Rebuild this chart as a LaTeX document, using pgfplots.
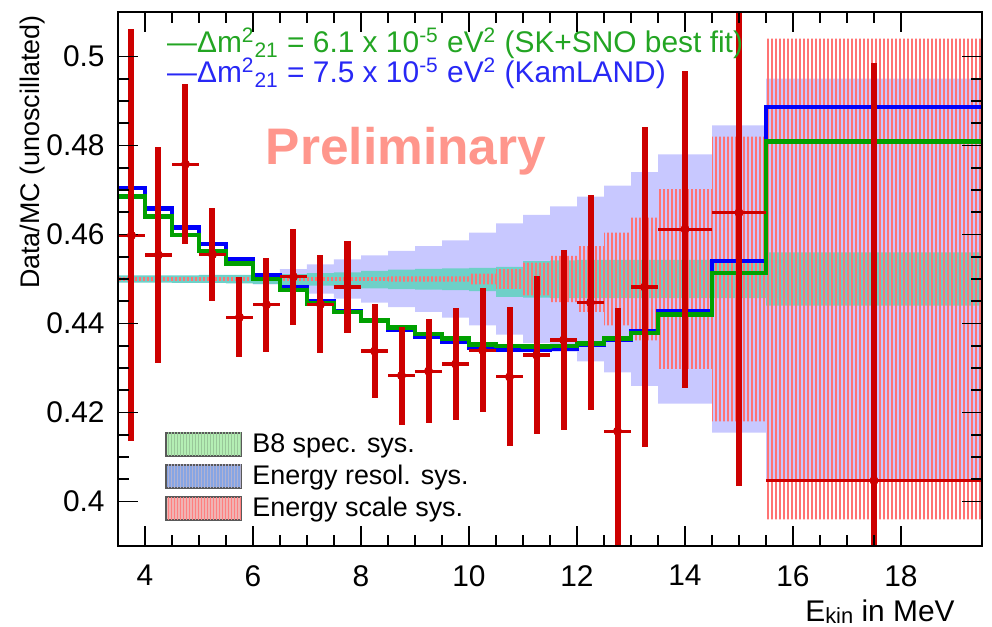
\documentclass[border=0pt]{standalone}
\usepackage{fontspec}
\setmainfont{Liberation Sans}
\usepackage{pgfplots}
\usepackage{pgfplotstable}
\pgfplotsset{compat=1.18}
\usetikzlibrary{patterns.meta}

\definecolor{datared}{RGB}{205,0,0}
\definecolor{fitgreen}{RGB}{0,160,0}
\definecolor{fitblue}{RGB}{0,0,250}
\definecolor{resolband}{RGB}{200,200,255}
\definecolor{bband}{RGB}{110,208,200}
\definecolor{scalehatch}{RGB}{255,115,115}
\definecolor{prelim}{RGB}{255,150,140}
\definecolor{txtgreen}{RGB}{35,165,35}
\definecolor{txtblue}{RGB}{40,40,245}
\definecolor{legB}{RGB}{180,238,180}
\definecolor{legR}{RGB}{135,165,228}
\definecolor{legS}{RGB}{240,180,180}

% measured spectrum: bin centre, value, half bin width, statistical error
\pgfplotstableread{
E      v       ex    ey
3.75   0.4598  0.25  0.0463
4.25   0.4554  0.25  0.0242
4.75   0.4758  0.25  0.0180
5.25   0.4555  0.25  0.0104
5.75   0.4414  0.25  0.0090
6.25   0.4442  0.25  0.0106
6.75   0.4505  0.25  0.0108
7.25   0.4443  0.25  0.0110
7.75   0.4482  0.25  0.0103
8.25   0.4338  0.25  0.0105
8.75   0.4283  0.25  0.0110
9.25   0.4293  0.25  0.0117
9.75   0.4309  0.25  0.0126
10.25  0.4340  0.25  0.0140
10.75  0.4280  0.25  0.0156
11.25  0.4329  0.25  0.0178
11.75  0.4363  0.25  0.0202
12.25  0.4447  0.25  0.0242
12.75  0.4158  0.25  0.0277
13.25  0.4482  0.25  0.0360
14.0   0.4612  0.5   0.0356
15.0   0.4649  0.5   0.0614
17.5   0.4047  2.0   0.0938
}\data

% oscillation expectations per bin (left edge; last row closes the final bin)
\pgfplotstableread{
E     kam     sksno
3.5   0.4704  0.4685
4.0   0.4658  0.4640
4.5   0.4616  0.4599
5.0   0.4578  0.4563
5.5   0.4544  0.4535
6.0   0.4508  0.4500
6.5   0.4482  0.4475
7.0   0.4450  0.4445
7.5   0.4428  0.4426
8.0   0.4406  0.4407
8.5   0.4385  0.4391
9.0   0.4370  0.4377
9.5   0.4358  0.4366
10.0  0.4345  0.4353
10.5  0.4342  0.4349
11.0  0.4341  0.4348
11.5  0.4343  0.4349
12.0  0.4351  0.4355
12.5  0.4364  0.4366
13.0  0.4383  0.4379
13.5  0.4428  0.4420
14.5  0.4541  0.4513
15.5  0.4886  0.4809
19.5  0.4886  0.4809
}\theory

% systematic bands as closed step outlines:
% upper edge left to right, then lower edge right to left
\pgfplotstableread{
E     y
3.5   0.4504
4.0   0.4504
4.5   0.4505
5.0   0.4506
5.5   0.4508
6.0   0.4512
6.5   0.4522
7.0   0.4533
7.5   0.4544
8.0   0.4553
8.5   0.4563
9.0   0.4574
9.5   0.4587
10.0  0.4604
10.5  0.4625
11.0  0.4644
11.5  0.4663
12.0  0.4685
12.5  0.4710
13.0  0.4740
13.5  0.4780
14.5  0.4845
15.5  0.4950
19.5  0.4950
19.5  0.4050
15.5  0.4155
14.5  0.4220
13.5  0.4260
13.0  0.4290
12.5  0.4315
12.0  0.4337
11.5  0.4356
11.0  0.4375
10.5  0.4396
10.0  0.4413
9.5   0.4426
9.0   0.4437
8.5   0.4447
8.0   0.4456
7.5   0.4467
7.0   0.4478
6.5   0.4488
6.0   0.4492
5.5   0.4494
5.0   0.4495
4.5   0.4496
4.0   0.4496
3.5   0.4496
}\resol

\pgfplotstableread{
E     y
3.5   0.4508
4.0   0.4508
4.5   0.4508
5.0   0.4509
5.5   0.4509
6.0   0.4510
6.5   0.4511
7.0   0.4513
7.5   0.4515
8.0   0.4518
8.5   0.4521
9.0   0.4523
9.5   0.4524
10.0  0.4525
10.5  0.4527
11.0  0.4540
11.5  0.4542
12.0  0.4543
12.5  0.4543
13.0  0.4543
13.5  0.4543
14.5  0.4543
15.5  0.4560
19.5  0.4560
19.5  0.4440
15.5  0.4457
14.5  0.4457
13.5  0.4457
13.0  0.4457
12.5  0.4457
12.0  0.4457
11.5  0.4458
11.0  0.4460
10.5  0.4473
10.0  0.4475
9.5   0.4476
9.0   0.4477
8.5   0.4479
8.0   0.4482
7.5   0.4485
7.0   0.4487
6.5   0.4489
6.0   0.4490
5.5   0.4491
5.0   0.4491
4.5   0.4492
4.0   0.4492
3.5   0.4492
}\beight

\pgfplotstableread{
E     y
3.5   0.4504
8.5   0.4506
10.0  0.4512
10.5  0.4522
11.0  0.4537
11.5  0.4552
12.0  0.4574
12.5  0.4604
13.0  0.4638
13.5  0.4702
14.5  0.4820
15.5  0.5040
19.5  0.5040
19.5  0.3960
15.5  0.4180
14.5  0.4298
13.5  0.4362
13.0  0.4396
12.5  0.4426
12.0  0.4448
11.5  0.4463
11.0  0.4478
10.5  0.4488
10.0  0.4494
8.5   0.4496
3.5   0.4496
}\escale

\begin{document}
\begin{tikzpicture}
\useasboundingbox (-59bp,-40.5bp) rectangle (437bp,273bp);
\begin{axis}[
  at={(0,0)}, anchor=south west,
  width=432bp, height=267bp, scale only axis,
  xmin=3.5, xmax=19.5, ymin=0.39, ymax=0.51,
  xtick={4,6,8,10,12,14,16,18},
  ytick={0.40,0.42,0.44,0.46,0.48,0.50},
  minor x tick num=3, minor y tick num=3,
  tick align=inside, tick pos=both,
  major tick length=10bp, minor tick length=5.5bp,
  every tick/.style={black, line width=0.9bp},
  axis line style={line width=1.3bp},
  axis on top,
  /pgf/number format/assume math mode=true,
  tick label style={font=\fontsize{15}{18}\selectfont, inner sep=0pt},
  xticklabel style={yshift=-9.5bp},
  yticklabel style={xshift=-6.5bp},
]
  % energy resolution systematic
  \addplot[const plot, fill=resolband, draw=none] table[x=E, y=y]{\resol} -- cycle;
  % B8 spectrum shape systematic
  \addplot[const plot, fill=bband, draw=none] table[x=E, y=y]{\beight} -- cycle;
  % energy scale systematic, hatched
  \addplot[const plot, draw=none, pattern={Lines[angle=90, distance=2bp, line width=0.6bp]},
           pattern color=scalehatch] table[x=E, y=y]{\escale} -- cycle;

  % expectations
  \addplot[const plot, fitblue, line width=2.2bp] table[x=E, y=kam]{\theory};
  \addplot[const plot, fitgreen, line width=2.2bp] table[x=E, y=sksno]{\theory};

  % data
  \addplot[only marks, mark=none, datared,
    error bars/.cd, y dir=both, y explicit, error mark=none,
    error bar style={line width=3bp, datared}]
    table[x=E, y=v, y error=ey]{\data};
  \addplot[only marks, mark=none, datared,
    error bars/.cd, x dir=both, x explicit, error mark=none,
    error bar style={line width=1.6bp, datared}]
    table[x=E, y=v, x error=ex]{\data};
\end{axis}

% oscillation hypotheses
\node[anchor=base west, inner sep=0pt, font=\fontsize{15}{18}\selectfont, text=txtgreen]
  at (24.4bp,246.5bp) {—Δm\textsuperscript{2}\textsubscript{21} = 6.1 x 10\textsuperscript{-5} eV\textsuperscript{2} (SK+SNO best fit)};
\node[anchor=base west, inner sep=0pt, font=\fontsize{15}{18}\selectfont, text=txtblue]
  at (24.4bp,231.5bp) {—Δm\textsuperscript{2}\textsubscript{21} = 7.5 x 10\textsuperscript{-5} eV\textsuperscript{2} (KamLAND)};

\node[anchor=base, inner sep=0pt, font=\fontsize{25.8}{30}\selectfont\bfseries, text=prelim]
  at (144bp,190.5bp) {Preliminary};

% systematics key
\draw[gray!70!black, line width=0.8bp, fill=legB,
  postaction={pattern={Lines[angle=90, distance=1.5bp, line width=0.3bp]}, pattern color=green!45!black!40}]
  (24bp,45bp) rectangle (61.5bp,56.5bp);
\draw[gray!70!black, line width=0.8bp, fill=legR,
  postaction={pattern={Lines[angle=90, distance=1.5bp, line width=0.3bp]}, pattern color=blue!40!black!30}]
  (24bp,29bp) rectangle (61.5bp,40.5bp);
\draw[gray!70!black, line width=0.8bp, fill=legS,
  postaction={pattern={Lines[angle=90, distance=1.5bp, line width=0.3bp]}, pattern color=red!50}]
  (24bp,13bp) rectangle (61.5bp,24.5bp);
\node[anchor=base west, inner sep=0pt, font=\fontsize{13.5}{16}\selectfont] at (67bp,46.6bp) {B8 spec. sys.};
\node[anchor=base west, inner sep=0pt, font=\fontsize{13.5}{16}\selectfont] at (67bp,31bp) {Energy resol. sys.};
\node[anchor=base west, inner sep=0pt, font=\fontsize{13.5}{16}\selectfont] at (67bp,15bp) {Energy scale sys.};

% axis titles
\node[anchor=base east, inner sep=0pt, font=\fontsize{15}{18}\selectfont]
  at (418.5bp,-37.5bp) {E\raisebox{-1bp}{\fontsize{11}{12}\selectfont kin} in MeV};
\node[rotate=90, anchor=east, inner sep=0pt, font=\fontsize{13.5}{16}\selectfont]
  at (-42.5bp,265.5bp) {Data/MC (unoscillated)};
\end{tikzpicture}
\end{document}
